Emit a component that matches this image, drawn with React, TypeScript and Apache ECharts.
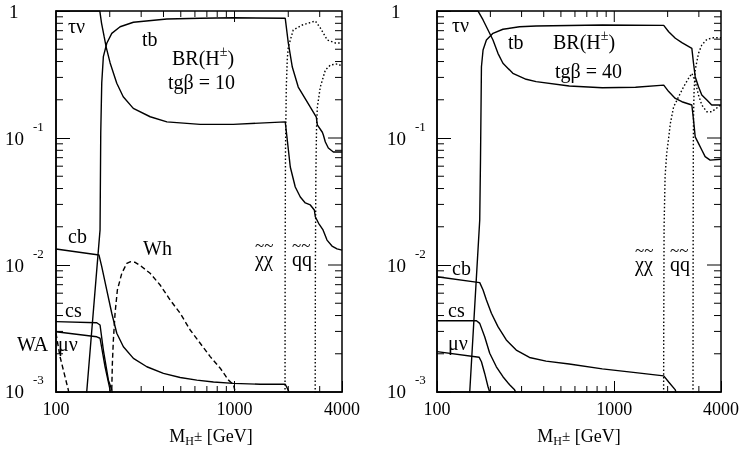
import React, { useEffect, useRef } from "react";
import * as echarts from "echarts";

const FONT = "Liberation Serif, serif";

// ---------- axis range & tick values ----------
const xRange = [100, 4000];
const yRange = [0.001, 1];
const xMajorTicks = [1000];
const xMinorTicks = [200, 300, 400, 500, 600, 700, 800, 900, 2000, 3000];
const xTickLabels = [100.001, 1000, 3999.9];
const yMajorTicks = [0.01, 0.1];
const yMinorTicks = [
  0.002, 0.003, 0.004, 0.005, 0.006, 0.007, 0.008, 0.009,
  0.02, 0.03, 0.04, 0.05, 0.06, 0.07, 0.08, 0.09,
  0.2, 0.3, 0.4, 0.5, 0.6, 0.7, 0.8, 0.9,
];
const yTickLabels = [0.0010001, 0.01, 0.1, 0.99999];

// ---------- tg beta = 10 (left panel) ----------
const tauNu10 = [
  [100, 0.999], [176, 0.999], [180, 0.8], [186, 0.63], [191, 0.52], [201, 0.39], [219, 0.27],
  [238, 0.211], [271, 0.171], [337, 0.147], [418, 0.134], [642, 0.128], [983, 0.128],
  [1924, 0.134], [1975, 0.0964], [2053, 0.0591], [2189, 0.0411], [2336, 0.0343],
  [2492, 0.0308], [2658, 0.0297], [2799, 0.0271], [2835, 0.024], [2958, 0.0213],
  [3132, 0.0189], [3185, 0.0178], [3297, 0.0157], [3516, 0.0141], [3752, 0.0134], [4000, 0.0131],
];
const tb10 = [
  [146, 0.0008], [148.6, 0.001], [176.5, 0.0189], [178.1, 0.1095], [180.4, 0.271], [184.2, 0.437],
  [192.5, 0.557], [205.3, 0.667], [228.6, 0.752], [271.4, 0.815], [417.8, 0.865], [642, 0.876],
  [983, 0.886], [1924, 0.876], [2001, 0.56], [2107, 0.362], [2275, 0.252], [2658, 0.175],
  [2763, 0.16], [2872, 0.146], [2910, 0.127], [3104, 0.111], [3145, 0.1056], [3227, 0.093],
  [3353, 0.0834], [3578, 0.0776], [4000, 0.0776],
];
const cb10 = [
  [100, 0.01336], [174, 0.012], [180.4, 0.0097], [192.5, 0.00635], [205.3, 0.00417], [219, 0.0029],
  [238.5, 0.00227], [271.4, 0.00184], [322.7, 0.00158], [399.7, 0.0014], [496, 0.0013],
  [615, 0.00124], [762, 0.0012], [986, 0.00117], [1393, 0.00115], [1924, 0.00115],
  [1975, 0.00107], [2053, 0.00095],
];
const cs10 = [
  [100, 0.00358], [169.2, 0.00351], [176.5, 0.00337], [184.2, 0.00214], [196.6, 0.00124],
  [205.3, 0.00104], [209, 0.0009],
];
const muNu10 = [
  [100, 0.00298], [169.2, 0.00272], [176.5, 0.00265], [188.3, 0.00158], [200.9, 0.00104], [203, 0.0009],
];
const wa10 = [
  [100, 0.0029], [105.3, 0.0019], [112.3, 0.00132], [117.2, 0.00104], [119, 0.0009],
];
const wh10 = [
  [205, 0.0009], [205.3, 0.00104], [206.9, 0.00168], [209.6, 0.00257], [214.2, 0.00417],
  [220.7, 0.00635], [233.6, 0.0086], [249.2, 0.0103], [260, 0.0106], [277.3, 0.0105],
  [302.5, 0.0097], [336.7, 0.0086], [383.1, 0.00696], [435.9, 0.0053], [496.1, 0.00417],
  [564.4, 0.00308], [642.2, 0.00242], [730.8, 0.0019], [831.6, 0.00154], [925.5, 0.00124],
  [987.2, 0.00114], [1009, 0.001], [1022, 0.00093],
];
const chi10 = [
  [1918, 0.0008], [1921, 0.01], [1930, 0.08], [1950, 0.25], [1975, 0.42], [2001, 0.52],
  [2133, 0.709], [2398, 0.776], [2835, 0.834], [3024, 0.735], [3311, 0.591], [3671, 0.56], [4000, 0.56],
];
const sq10 = [
  [2830, 0.0008], [2838, 0.01], [2855, 0.05], [2880, 0.12], [2910, 0.175], [3024, 0.252],
  [3227, 0.343], [3446, 0.376], [3770, 0.383], [4000, 0.369],
];

// ---------- tg beta = 40 (right panel) ----------
const tauNu40 = [
  [100, 0.999], [170.5, 0.999], [181.9, 0.85], [194, 0.709], [206.9, 0.591], [220.7, 0.464],
  [235.5, 0.388], [267.9, 0.323], [318.4, 0.29], [362.4, 0.278], [557, 0.257], [856, 0.249],
  [1318, 0.251], [1901, 0.261], [2027, 0.232], [2210, 0.205], [2407, 0.193], [2739, 0.182],
  [2799, 0.139], [2861, 0.102], [2986, 0.0908], [3117, 0.0805], [3255, 0.0713], [3473, 0.067],
  [4000, 0.068],
];
const tb40 = [
  [150, 0.0008], [153, 0.001], [174.2, 0.0226], [176, 0.07], [178.1, 0.364], [181.9, 0.493],
  [190, 0.591], [206.9, 0.667], [235.5, 0.718], [292.1, 0.752], [362.4, 0.762], [856, 0.776],
  [1901, 0.771], [2027, 0.687], [2210, 0.61], [2407, 0.563], [2739, 0.508], [2799, 0.388],
  [2861, 0.304], [2986, 0.253], [3117, 0.218], [3330, 0.199], [3545, 0.182], [4000, 0.182],
];
const cb40 = [
  [100, 0.00809], [174.2, 0.00726], [181.9, 0.00635], [190, 0.0053], [202.7, 0.00417],
  [220.7, 0.00327], [246, 0.00257], [279.9, 0.00214], [332.4, 0.00187], [412.3, 0.00175],
  [557, 0.00166], [856, 0.00152], [1318, 0.00142], [1901, 0.00134], [2027, 0.0012],
  [2210, 0.00104], [2250, 0.00093],
];
const cs40 = [
  [100, 0.00364], [167, 0.00364], [174.2, 0.00347], [185.8, 0.00272], [198.3, 0.00202],
  [216.2, 0.00158], [235.5, 0.00132], [256.8, 0.00114], [273.9, 0.00104], [284.6, 0.00093],
];
const muNu40 = [
  [100, 0.00208], [172.7, 0.00188], [178.1, 0.00173], [185.8, 0.0014], [194, 0.0011],
  [198.3, 0.001], [200.7, 0.00093],
];
const chi40 = [
  [1898, 0.0008], [1901, 0.003], [1910, 0.02], [1935, 0.05], [1975, 0.075], [2027, 0.1],
  [2071, 0.13], [2162, 0.176], [2306, 0.211], [2460, 0.253], [2624, 0.295], [2739, 0.323],
  [2861, 0.278], [2986, 0.218], [3117, 0.182], [3324, 0.161], [3545, 0.161], [3866, 0.176], [4000, 0.182],
];
const sq40 = [
  [2780, 0.0008], [2785, 0.01], [2792, 0.08], [2800, 0.15], [2817, 0.225], [2861, 0.343],
  [2986, 0.464], [3117, 0.54], [3330, 0.598], [3626, 0.616], [4000, 0.616],
];

// ---------- helpers ----------
const black = "#000";

function xAxisFor(grid: number, namePad: number) {
  return {
    type: "log", gridIndex: grid, min: xRange[0], max: xRange[1], position: "bottom",
    splitLine: { show: false },
    axisLine: { show: true, onZero: false, lineStyle: { color: black, width: 1.5 } },
    axisTick: { show: true, inside: true, length: 11, lineStyle: { color: black, width: 1 } },
    axisLabel: {
      show: true, customValues: xTickLabels, margin: 8, color: black, fontFamily: FONT, fontSize: 18,
      formatter: (v: number) => String(Math.round(v / 10) * 10),
    },
    name: "{m|M}{h|H}{p|±}{m| [GeV]}",
    nameLocation: "middle",
    nameGap: 33,
    nameTextStyle: {
      color: black, fontFamily: FONT, fontSize: 18, padding: [0, 0, 0, namePad],
      rich: {
        m: { fontFamily: FONT, fontSize: 18, color: black },
        h: { fontFamily: FONT, fontSize: 12, color: black, padding: [10, 0, 0, 0] },
        p: { fontFamily: FONT, fontSize: 15, color: black },
      },
    },
  };
}

function yAxisFor(grid: number, labelMargin: number) {
  return {
    type: "log", gridIndex: grid, min: yRange[0], max: yRange[1], position: "left",
    splitLine: { show: false },
    axisLine: { show: true, onZero: false, lineStyle: { color: black, width: 1.5 } },
    axisTick: { show: true, inside: true, length: 14, lineStyle: { color: black, width: 1 } },
    axisLabel: {
      show: true, customValues: yTickLabels, margin: labelMargin, align: "left", color: black,
      fontFamily: FONT, fontSize: 19,
      formatter: (v: number) => {
        const e = Math.round(Math.log10(v));
        return e === 0 ? "{one|1}" : "{b|10}{s|" + e + "}";
      },
      rich: {
        one: { fontFamily: FONT, fontSize: 19, color: black, padding: [0, 0, 0, 4] },
        b: { fontFamily: FONT, fontSize: 19, color: black },
        s: { fontFamily: FONT, fontSize: 13, color: black, padding: [0, 0, 24, 9] },
      },
    },
  };
}

function curve(name: string, data: number[][], axis: number, kind: "solid" | "dashed" | "dotted") {
  const type = kind === "solid" ? "solid" : kind === "dashed" ? [5, 3] : [1.5, 2.2];
  return {
    name, type: "line", data, xAxisIndex: axis, yAxisIndex: axis,
    symbol: "none", smooth: false,
    lineStyle: { color: black, width: 1.4, type },
  };
}

// inward tick marks drawn as thin rect symbols sitting on the frame, positioned by the axes' scales
function tickMarks(axis: number, side: "bottom" | "top" | "left" | "right", values: number[], len: number) {
  const horizontal = side === "left" || side === "right";
  const data = values.map((v) =>
    side === "bottom" ? [v, yRange[0]] :
    side === "top" ? [v, yRange[1]] :
    side === "left" ? [xRange[0], v] : [xRange[1], v]
  );
  const offset =
    side === "bottom" ? [0, -len / 2] :
    side === "top" ? [0, len / 2] :
    side === "left" ? [len / 2, 0] : [-len / 2, 0];
  return {
    type: "scatter", xAxisIndex: axis, yAxisIndex: axis, data,
    symbol: "rect", symbolSize: horizontal ? [len, 1] : [1, len], symbolOffset: offset,
    itemStyle: { color: black, opacity: 1 }, silent: true, clip: false, z: 3,
  };
}

function panelTicks(axis: number) {
  return [
    tickMarks(axis, "bottom", xMinorTicks, 6),
    tickMarks(axis, "top", xMinorTicks, 6),
    tickMarks(axis, "top", xMajorTicks, 11),
    tickMarks(axis, "left", yMinorTicks, 7),
    tickMarks(axis, "right", yMinorTicks, 7),
    tickMarks(axis, "right", yMajorTicks, 14),
  ];
}

function label(text: string, x: number, y: number, size = 20) {
  return {
    type: "text", x, y, silent: true,
    style: { text, fontFamily: FONT, fontSize: size, fill: black, align: "left", verticalAlign: "middle" },
  };
}

function tildeLabel(chars: string, x: number, y: number) {
  return {
    type: "text", x, y: y - 4, silent: true,
    style: {
      text: "{t|~~}\n{c|" + chars + "}", align: "left", verticalAlign: "middle",
      rich: {
        t: { fontFamily: FONT, fontSize: 17, fill: black, lineHeight: 8 },
        c: { fontFamily: FONT, fontSize: 20, fill: black, lineHeight: 20 },
      },
    },
  };
}

function brLabel(x: number, y: number) {
  return {
    type: "text", x, y, silent: true,
    style: {
      text: "{a|BR(H}{s|±}{a|)}", align: "left", verticalAlign: "middle",
      rich: {
        a: { fontFamily: FONT, fontSize: 20, fill: black },
        s: { fontFamily: FONT, fontSize: 14, fill: black, padding: [0, 0, 14, 0] },
      },
    },
  };
}

export default function App() {
  const ref = useRef<HTMLDivElement>(null);

  useEffect(() => {
    if (!ref.current) return;
    const chart = echarts.init(ref.current, null, { renderer: "svg" });
    const option: any = {
      animation: false,
      grid: [
        { left: 56, top: 11, width: 286, height: 381, show: true, borderColor: black, borderWidth: 1.5 },
        { left: 437, top: 11, width: 284, height: 381, show: true, borderColor: black, borderWidth: 1.5 },
      ],
      xAxis: [xAxisFor(0, 24), xAxisFor(1, 0)],
      yAxis: [yAxisFor(0, 51), yAxisFor(1, 50)],
      series: [
        curve("τν (tgβ=10)", tauNu10, 0, "solid"),
        curve("tb (tgβ=10)", tb10, 0, "solid"),
        curve("cb (tgβ=10)", cb10, 0, "solid"),
        curve("cs (tgβ=10)", cs10, 0, "solid"),
        curve("μν (tgβ=10)", muNu10, 0, "solid"),
        curve("WA (tgβ=10)", wa10, 0, "dashed"),
        curve("Wh (tgβ=10)", wh10, 0, "dashed"),
        curve("χχ (tgβ=10)", chi10, 0, "dotted"),
        curve("qq (tgβ=10)", sq10, 0, "dotted"),
        curve("τν (tgβ=40)", tauNu40, 1, "solid"),
        curve("tb (tgβ=40)", tb40, 1, "solid"),
        curve("cb (tgβ=40)", cb40, 1, "solid"),
        curve("cs (tgβ=40)", cs40, 1, "solid"),
        curve("μν (tgβ=40)", muNu40, 1, "solid"),
        curve("χχ (tgβ=40)", chi40, 1, "dotted"),
        curve("qq (tgβ=40)", sq40, 1, "dotted"),
        ...panelTicks(0),
        ...panelTicks(1),
      ],
      graphic: [
        // left panel
        label("τν", 68, 26),
        label("tb", 142, 39),
        brLabel(172, 58),
        label("tgβ = 10", 168, 82),
        label("cb", 68, 236),
        label("Wh", 143, 248),
        tildeLabel("χχ", 255, 259),
        tildeLabel("qq", 292, 259),
        label("cs", 65, 310),
        label("WA", 17, 344),
        label("μν", 58, 344),
        // right panel
        label("τν", 452, 25),
        label("tb", 508, 42),
        brLabel(553, 42),
        label("tgβ = 40", 555, 71),
        label("cb", 452, 268),
        label("cs", 448, 310),
        label("μν", 448, 343),
        tildeLabel("χχ", 635, 264),
        tildeLabel("qq", 670, 264),
      ],
    };
    chart.setOption(option);
    return () => chart.dispose();
  }, []);

  return (
    <div
      ref={ref}
      style={{ position: "fixed", left: 0, top: 0, width: 746, height: 452 }}
    />
  );
}
